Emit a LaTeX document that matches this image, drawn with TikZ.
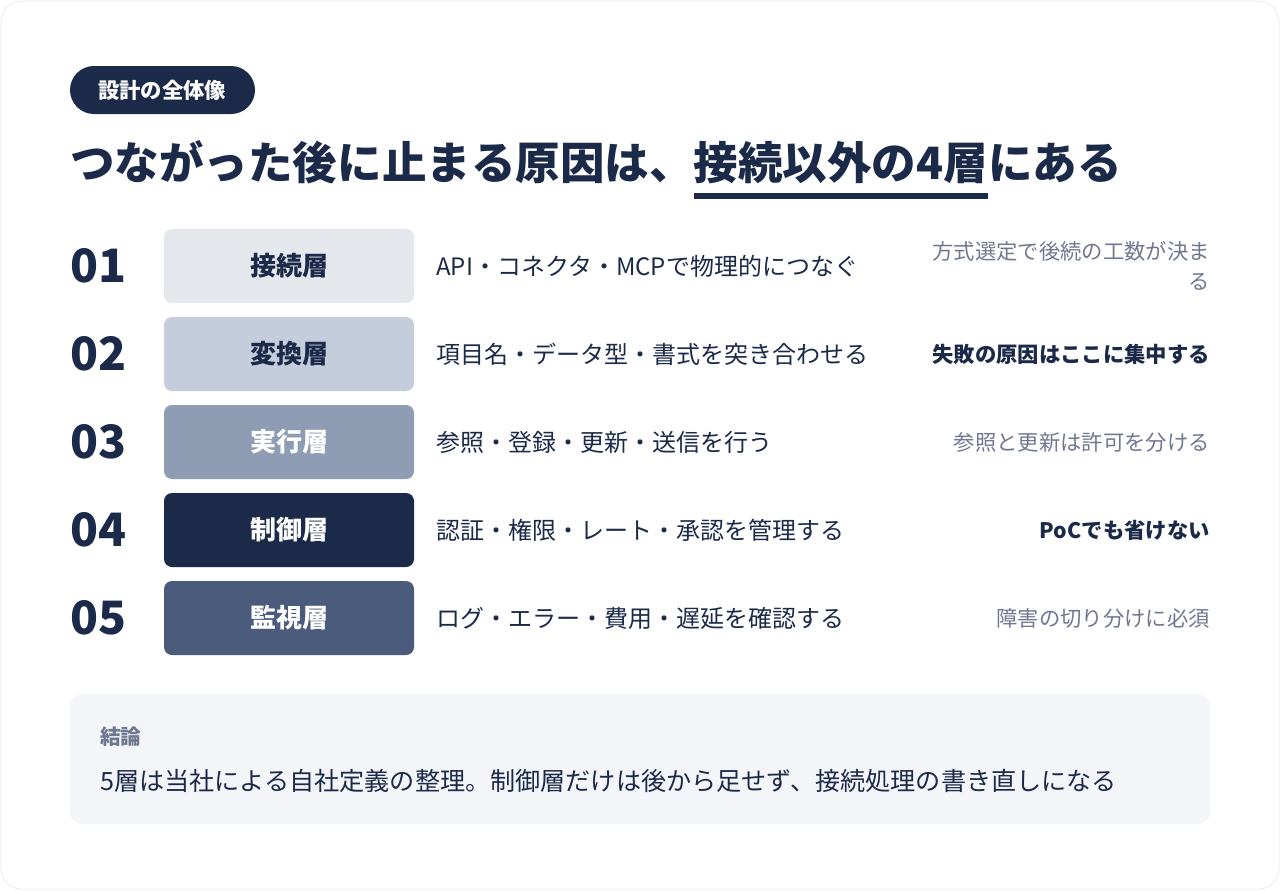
\documentclass[tikz,border=0pt]{standalone}
\usepackage{fontspec}
\setmainfont{Noto Sans CJK JP}
\definecolor{navy}{HTML}{1C2A4A}
\definecolor{inkgray}{HTML}{6F7890}
\definecolor{cardline}{HTML}{E3E6EB}
\definecolor{layerA}{HTML}{E4E7EC}
\definecolor{layerB}{HTML}{C5CCDC}
\definecolor{layerC}{HTML}{8E9CB4}
\definecolor{layerD}{HTML}{1C2A4A}
\definecolor{layerE}{HTML}{4B5B7B}
\definecolor{notebg}{HTML}{F3F5F8}
\tikzset{
  layerbox/.style={rounded corners=6pt, minimum width=187.5pt, minimum height=55.5pt, inner sep=0,
    font=\fontsize{19.5}{22}\selectfont\bfseries},
  layernum/.style={anchor=west, inner sep=0, text=navy, font=\fontsize{34.5}{40}\selectfont\bfseries},
  layerdesc/.style={anchor=west, inner sep=0, text=navy, font=\fontsize{18}{22}\selectfont},
  layernote/.style={anchor=east, inner sep=0, align=right, text=inkgray, font=\fontsize{16}{22.5}\selectfont},
  layerkey/.style={layernote, text=navy, font=\fontsize{16}{22.5}\selectfont\bfseries}
}
\begin{document}
\begin{tikzpicture}[x=0.75pt, y=-0.75pt]
            \useasboundingbox (0, 0) rectangle (1280, 890);
            \fill[white] (0, 0) rectangle (1280, 890);
            \draw[cardline, fill=white, rounded corners=15pt] (1, 1) rectangle (1279, 889);

            \fill[navy, rounded corners=18pt] (70, 66) rectangle (255, 114);
            \node[text=white, inner sep=0, font=\fontsize{16}{20}\selectfont\bfseries] (badge) at (162, 90) {設計の全体像};

            \node[anchor=west, inner sep=0, text=navy, font=\fontsize{33.4}{40}\selectfont\bfseries] (title) at (70, 162) {つながった後に止まる原因は、接続以外の4層にある};
            \fill[navy] (694, 193) rectangle (988, 199);

            \node[layernum] (n1) at (70, 266) {01};
            \node[layernum] (n2) at (70, 354) {02};
            \node[layernum] (n3) at (70, 442) {03};
            \node[layernum] (n4) at (70, 530) {04};
            \node[layernum] (n5) at (70, 618) {05};

            \node[layerbox, fill=layerA, text=navy] (connect) at (289, 266) {接続層};
            \node[layerbox, fill=layerB, text=navy] (convert) at (289, 354) {変換層};
            \node[layerbox, fill=layerC, text=white] (execute) at (289, 442) {実行層};
            \node[layerbox, fill=layerD, text=white] (control) at (289, 530) {制御層};
            \node[layerbox, fill=layerE, text=white] (monitor) at (289, 618) {監視層};

            \node[layerdesc] (d1) at (436, 266) {API・コネクタ・MCPで物理的につなぐ};
            \node[layerdesc] (d2) at (436, 354) {項目名・データ型・書式を突き合わせる};
            \node[layerdesc] (d3) at (436, 442) {参照・登録・更新・送信を行う};
            \node[layerdesc] (d4) at (436, 530) {認証・権限・レート・承認を管理する};
            \node[layerdesc] (d5) at (436, 618) {ログ・エラー・費用・遅延を確認する};

            \node[layernote] (t1) at (1210, 266) {方式選定で後続の工数が決ま\\る};
            \node[layerkey] (t2) at (1210, 354) {失敗の原因はここに集中する};
            \node[layernote] (t3) at (1210, 442) {参照と更新は許可を分ける};
            \node[layerkey] (t4) at (1210, 530) {PoCでも省けない};
            \node[layernote] (t5) at (1210, 618) {障害の切り分けに必須};

            \fill[notebg, rounded corners=9pt] (70, 694) rectangle (1210, 824);
            \node[anchor=west, inner sep=0, text=inkgray, font=\fontsize{15.5}{20}\selectfont\bfseries] (sumhead) at (100, 737) {結論};
            \node[anchor=west, inner sep=0, text=navy, font=\fontsize{18.85}{24}\selectfont] (sumtext) at (100, 781) {5層は当社による自社定義の整理。制御層だけは後から足せず、接続処理の書き直しになる};
        \end{tikzpicture}
\end{document}
